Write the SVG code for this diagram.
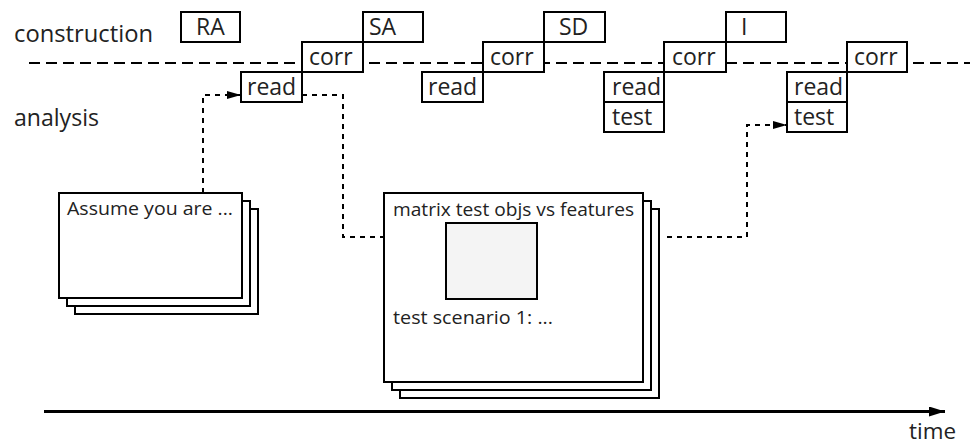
<svg xmlns="http://www.w3.org/2000/svg" width="970" height="445" viewBox="0 0 970 445">
<style>
text{font-family:"Open Sans","DejaVu Sans",sans-serif;fill:#222}
.lbl{font-size:23px}
.sm{font-size:19px}
.box{fill:#fff;stroke:#000;stroke-width:2}
.dash{fill:none;stroke:#000;stroke-width:2;stroke-dasharray:11,6}
.dot{fill:none;stroke:#000;stroke-width:2;stroke-dasharray:5,5}
.axis{fill:none;stroke:#000;stroke-width:3}
</style>
<defs>
<marker id="ah" markerWidth="14" markerHeight="8" refX="14" refY="4" orient="auto" markerUnits="userSpaceOnUse">
<path d="M0,0 L14,4 L0,8 Z" fill="#000"/>
</marker>
<marker id="ax" markerWidth="16" markerHeight="10" refX="16" refY="5" orient="auto" markerUnits="userSpaceOnUse">
<path d="M0,0 L16,5 L0,10 Z" fill="#000"/>
</marker>
</defs>

<g id="labels">
<text class="lbl" x="14" y="42" textLength="139" lengthAdjust="spacingAndGlyphs">construction</text>
<text class="lbl" x="14" y="126" textLength="85" lengthAdjust="spacingAndGlyphs">analysis</text>
<text x="909" y="439" font-size="21" textLength="47" lengthAdjust="spacingAndGlyphs">time</text>
</g>

<g id="connectors">
<line class="dash" x1="29" y1="63" x2="970" y2="63"/>
<polyline class="dot" points="203,193 203,95 241,95" marker-end="url(#ah)"/>
<polyline class="dot" points="302,95 343,95 343,237 384,237"/>
<polyline class="dot" points="667,237 747,237 747,125 787,125" marker-end="url(#ah)"/>
<line class="axis" x1="44" y1="411.5" x2="945" y2="411.5" marker-end="url(#ax)"/>
</g>

<g id="RA"><rect class="box" x="181" y="12" width="59" height="30"/><text class="lbl" x="196" y="35">RA</text></g>
<g id="read1"><rect class="box" x="241" y="72" width="61" height="30"/><text class="lbl" x="247" y="95">read</text></g>
<g id="corr1"><rect class="box" x="302" y="42" width="61" height="30"/><text class="lbl" x="309" y="65">corr</text></g>
<g id="SA"><rect class="box" x="363" y="12" width="60" height="30"/><text class="lbl" x="369" y="35">SA</text></g>

<g id="read2"><rect class="box" x="422" y="72" width="61" height="30"/><text class="lbl" x="428" y="95">read</text></g>
<g id="corr2"><rect class="box" x="483" y="42" width="61" height="30"/><text class="lbl" x="490" y="65">corr</text></g>
<g id="SD"><rect class="box" x="544" y="12" width="61" height="30"/><text class="lbl" x="559" y="35">SD</text></g>

<g id="read3"><rect class="box" x="604" y="72" width="60" height="30"/><text class="lbl" x="612" y="95">read</text></g>
<g id="test3"><rect class="box" x="604" y="102" width="60" height="30"/><text class="lbl" x="612" y="125">test</text></g>
<g id="corr3"><rect class="box" x="664" y="42" width="62" height="30"/><text class="lbl" x="672" y="65">corr</text></g>
<g id="I"><rect class="box" x="726" y="12" width="60" height="30"/><text class="lbl" x="741" y="35">I</text></g>

<g id="read4"><rect class="box" x="787" y="72" width="60" height="30"/><text class="lbl" x="794" y="95">read</text></g>
<g id="test4"><rect class="box" x="787" y="102" width="60" height="30"/><text class="lbl" x="794" y="125">test</text></g>
<g id="corr4"><rect class="box" x="847" y="42" width="60" height="30"/><text class="lbl" x="854" y="65">corr</text></g>

<g id="assume">
<rect class="box" x="75" y="209" width="183" height="105"/>
<rect class="box" x="67" y="201" width="183" height="105"/>
<rect class="box" x="59" y="193" width="183" height="105"/>
<text class="sm" x="67" y="215" textLength="166" lengthAdjust="spacingAndGlyphs">Assume you are ...</text>
</g>

<g id="matrix">
<rect class="box" x="400" y="209" width="259" height="189"/>
<rect class="box" x="392" y="201" width="259" height="189"/>
<rect class="box" x="384" y="193" width="259" height="189"/>
<text class="sm" x="393" y="216" textLength="241" lengthAdjust="spacingAndGlyphs">matrix test objs vs features</text>
<rect x="446" y="223" width="91" height="76" fill="#f4f4f4" stroke="#000" stroke-width="2"/>
<text class="sm" x="393" y="324" textLength="160" lengthAdjust="spacingAndGlyphs">test scenario 1: ...</text>
</g>
</svg>
